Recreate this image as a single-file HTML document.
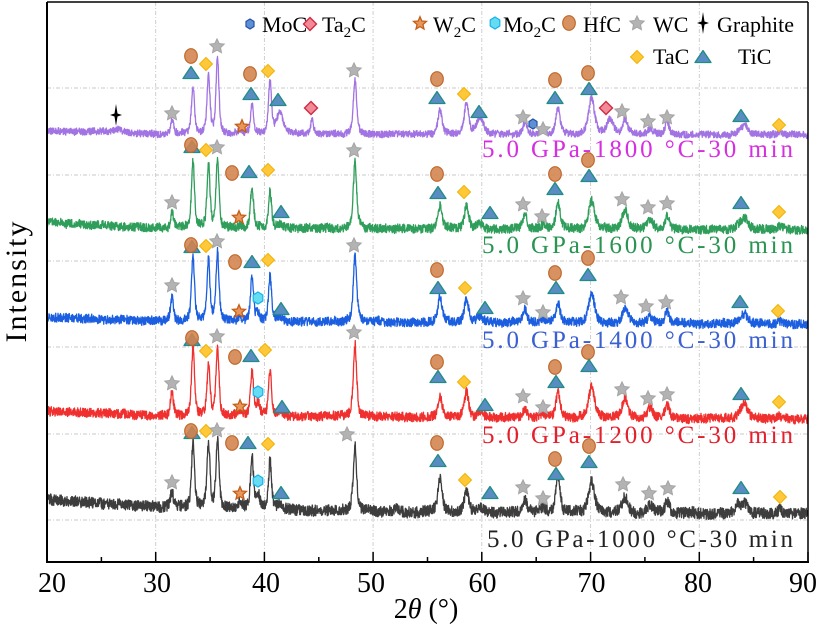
<!DOCTYPE html>
<html><head><meta charset="utf-8">
<style>
html,body{margin:0;padding:0;background:#fff;}
svg{display:block;}
text{font-family:"Liberation Serif","DejaVu Serif",serif;}
</style></head>
<body>
<svg id="s" width="821" height="632" viewBox="0 0 821 632" xmlns="http://www.w3.org/2000/svg">
<rect width="821" height="632" fill="#fff"/>
<defs><clipPath id="cp"><rect x="47" y="2" width="761" height="560"/></clipPath></defs>
<g stroke="#c9c9c9" stroke-width="0.9" stroke-dasharray="4 2 1 2" fill="none">
<line x1="155.7" y1="2" x2="155.7" y2="562"/>
<line x1="264.4" y1="2" x2="264.4" y2="562"/>
<line x1="373.1" y1="2" x2="373.1" y2="562"/>
<line x1="481.8" y1="2" x2="481.8" y2="562"/>
<line x1="590.6" y1="2" x2="590.6" y2="562"/>
<line x1="699.3" y1="2" x2="699.3" y2="562"/>
<line x1="47" y1="88" x2="808" y2="88"/>
<line x1="47" y1="175" x2="808" y2="175"/>
<line x1="47" y1="261" x2="808" y2="261"/>
<line x1="47" y1="347" x2="808" y2="347"/>
<line x1="47" y1="434" x2="808" y2="434"/>
<line x1="47" y1="520" x2="808" y2="520"/>
</g>
<g id="series" clip-path="url(#cp)"></g>
<g id="markers"></g>
<g font-size="25">
<text x="793" y="157" text-anchor="end" fill="#d62ee0" textLength="311" lengthAdjust="spacing">5.0 GPa-1800 °C-30 min</text>
<text x="793" y="253" text-anchor="end" fill="#2a9452" textLength="311" lengthAdjust="spacing">5.0 GPa-1600 °C-30 min</text>
<text x="793" y="348" text-anchor="end" fill="#3a60d2" textLength="311" lengthAdjust="spacing">5.0 GPa-1400 °C-30 min</text>
<text x="793" y="443" text-anchor="end" fill="#e3202c" textLength="311" lengthAdjust="spacing">5.0 GPa-1200 °C-30 min</text>
<text x="793" y="547" text-anchor="end" fill="#222" textLength="306" lengthAdjust="spacing">5.0 GPa-1000 °C-30 min</text>
</g>
<g fill="none" stroke="#000">
<line x1="47" y1="2" x2="47" y2="563" stroke-width="2"/>
<line x1="46" y1="562" x2="809" y2="562" stroke-width="2"/>
<line x1="47" y1="2" x2="808" y2="2" stroke-width="1.5"/>
<line x1="808" y1="2" x2="808" y2="562" stroke-width="1.5"/>
</g>
<g id="ticks" stroke="#000" stroke-width="1.5"></g>
<g font-size="28" text-anchor="middle" fill="#000">
<text x="52" y="592">20</text>
<text x="157" y="592">30</text>
<text x="266" y="592">40</text>
<text x="371" y="592">50</text>
<text x="482.5" y="592">60</text>
<text x="591.5" y="592">70</text>
<text x="698" y="592">80</text>
<text x="803" y="592">90</text>
</g>
<text x="426" y="618" font-size="28" text-anchor="middle">2<tspan font-style="italic">θ</tspan> (°)</text>
<text transform="translate(26,281) rotate(-90)" font-size="30" text-anchor="middle" letter-spacing="2">Intensity</text>
<g id="legend" font-size="22" fill="#000">
<text x="262" y="32">MoC</text>
<text x="322" y="32">Ta<tspan font-size="15" dy="5">2</tspan><tspan dy="-5">C</tspan></text>
<text x="433" y="32">W<tspan font-size="15" dy="5">2</tspan><tspan dy="-5">C</tspan></text>
<text x="503" y="32">Mo<tspan font-size="15" dy="5">2</tspan><tspan dy="-5">C</tspan></text>
<text x="583" y="32">HfC</text>
<text x="653" y="32">WC</text>
<text x="717" y="32">Graphite</text>
<text x="653" y="64">TaC</text>
<text x="738" y="64">TiC</text>
</g>
<g id="legm"></g>
</svg>
<script>
(function(){
var NS="http://www.w3.org/2000/svg";
function rng(seed){return function(){seed|=0;seed=seed+0x6D2B79F5|0;var t=Math.imul(seed^seed>>>15,1|seed);t=t+Math.imul(t^t>>>7,61|t)^t;return((t^t>>>14)>>>0)/4294967296;};}
function interp(p,x){for(var i=0;i<p.length-1;i++){if(x<=p[i+1][0]){var t=(x-p[i][0])/(p[i+1][0]-p[i][0]);return p[i][1]+t*(p[i+1][1]-p[i][1]);}}return p[p.length-1][1];}
function pv(x,c,w){var d=(x-c)/(w/2),d2=d*d;return 0.55/(1+d2)+0.45*Math.exp(-0.693*d2);}
var S=[
{c:"#a273e3",n:3.4,seed:11,base:[[47,131],[160,134],[808,135]],pk:[[118,3,8],[172,14,3.5],[193,48,3.5],[208.5,58,3.5],[217.5,76,3.5],[240,3,4],[252,29,3.5],[270,53,3.5],[280,22,8],[312,15,3.5],[355,54,4],[440,25,5],[466.5,31,5],[480,17,8],[525,13,5],[543,7,6],[558,25,5],[591.5,36,7],[610,15,8],[625,15,6],[650,6,7],[667,13,5],[740,4,8],[745,9,6],[780,4,6]]},
{c:"#2f9e5b",n:4.4,seed:22,base:[[47,223],[160,228],[808,230]],pk:[[172,15,3.5],[193,68,3.5],[208.5,63,3.5],[217.5,67,3.5],[240,3,4],[252,42,3.5],[270,38,3.5],[280,4,6],[355,66,4],[440,23,5],[466.5,23,5],[480,5,7],[525,15,5],[543,4,6],[558,26,5],[591.5,29,7],[625,19,7],[650,10,7],[667,14,5],[740,5,8],[745,10,7],[780,4,6]]},
{c:"#1b5fe0",n:4.4,seed:33,base:[[47,317],[160,321],[808,324]],pk:[[172,24,3.5],[193,65,3.5],[208.5,60,3.5],[217.5,68,3.5],[240,4,4],[252,45,3.5],[258,9,4],[270,45,3.5],[280,5,6],[355,67,4],[440,25,5],[466.5,23,5],[480,5,7],[525,13,5],[543,4,6],[558,20,5],[591.5,30,7],[625,15,7],[650,8,7],[667,12,5],[740,4,8],[745,8,7],[780,3,6]]},
{c:"#f0302e",n:4.6,seed:44,base:[[47,411],[160,416],[808,419]],pk:[[172,25,3.5],[193,69,3.5],[208.5,51,3.5],[217.5,69,3.5],[240,5,4],[252,47,3.5],[258,13,4],[270,46,3.5],[280,5,6],[355,73,4],[440,21,5],[466.5,26,5],[480,5,7],[525,10,5],[543,4,6],[558,25,5],[591.5,31,7],[625,20,7],[650,10,7],[667,13,5],[740,5,8],[745,13,7],[780,3,6]]},
{c:"#3d3d3d",n:5.6,seed:55,base:[[47,500],[160,507],[400,512],[808,514]],pk:[[172,17,3.5],[193,66,3.5],[208.5,65,3.5],[217.5,68,3.5],[240,7,4],[252,54,3.5],[258,15,4],[270,49,3.5],[280,5,6],[355,65,4],[397,4,4],[440,35,5],[466.5,22,5],[480,4,7],[525,14,5],[543,5,6],[558,35,5],[591.5,31,7],[625,16,7],[650,8,7],[667,12,5],[738,9,6],[745,10,6],[780,4,6]]}
];
var g=document.getElementById("series");
S.forEach(function(s){
 var r=rng(s.seed),d="",lf=0;
 for(var x=47;x<=808.01;x+=0.25){
  var y=interp(s.base,x);
  for(var i=0;i<s.pk.length;i++){var p=s.pk[i];y-=p[1]*pv(x,p[0],p[2]);}
  lf=lf*0.95+(r()-0.5)*0.5;
  y+=(r()-0.5)*2*s.n+lf;
  d+=(d?"L":"M")+x.toFixed(2)+","+y.toFixed(2);
 }
 var pa=document.createElementNS(NS,"path");
 pa.setAttribute("d",d);pa.setAttribute("fill","none");pa.setAttribute("stroke",s.c);
 pa.setAttribute("stroke-width","1.3");pa.setAttribute("stroke-linejoin","round");
 g.appendChild(pa);
});
function star(x,y,R,r){var p=[];for(var i=0;i<10;i++){var a=(-90+i*36)*Math.PI/180,rr=i%2?r:R;p.push((x+rr*Math.cos(a)).toFixed(2)+","+(y+rr*Math.sin(a)).toFixed(2));}return p.join(" ");}
function hex(x,y,w,h){return [[0,-h],[w,-h/2],[w,h/2],[0,h],[-w,h/2],[-w,-h/2]].map(function(q){return (x+q[0])+","+(y+q[1]);}).join(" ");}
var M={
 hfc:function(x,y){return '<ellipse cx="'+x+'" cy="'+y+'" rx="6.3" ry="7.3" fill="#d3834c" fill-opacity="0.88" stroke="#c0682c" stroke-width="1.2"/>';},
 tic:function(x,y){return '<polygon points="'+x+','+(y-6.5)+' '+(x+8)+','+(y+5.5)+' '+(x-8)+','+(y+5.5)+'" fill="#5a8cc4" stroke="#1f8c86" stroke-width="1.3" stroke-linejoin="round"/>';},
 tac:function(x,y){return '<polygon points="'+x+','+(y-6.5)+' '+(x+6.5)+','+y+' '+x+','+(y+6.5)+' '+(x-6.5)+','+y+'" fill="#ffc83a" stroke="#f3b200" stroke-width="1"/>';},
 wc:function(x,y){return '<polygon points="'+star(x,y+0.5,7.6,3.7)+'" fill="#b3b3b3" stroke="#a4a4a4" stroke-width="1"/>';},
 w2c:function(x,y){return '<polygon points="'+star(x,y+0.5,6.8,3.1)+'" fill="#e8975c" stroke="#c45d18" stroke-width="1.3"/>';},
 ta2c:function(x,y){return '<polygon points="'+x+','+(y-6.5)+' '+(x+6.5)+','+y+' '+x+','+(y+6.5)+' '+(x-6.5)+','+y+'" fill="#f08a96" stroke="#d22a44" stroke-width="1.4"/>';},
 moc:function(x,y){return '<polygon points="'+hex(x,y,4,5)+'" fill="#5d8fd4" stroke="#2352a8" stroke-width="1.2"/>';},
 mo2c:function(x,y){return '<polygon points="'+hex(x,y,4.8,6)+'" fill="#66dcf2" stroke="#18b2ea" stroke-width="1.2"/>';},
 gr:function(x,y){return '<polygon points="'+x+','+(y-11)+' '+(x+1.5)+','+(y-1.5)+' '+(x+6)+','+y+' '+(x+1.5)+','+(y+1.5)+' '+x+','+(y+11)+' '+(x-1.5)+','+(y+1.5)+' '+(x-6)+','+y+' '+(x-1.5)+','+(y-1.5)+'" fill="#000"/>';}
};
var L=[
["gr",116,115],["wc",172,113],["tic",191,73],["hfc",191,56],["tac",206,64],["wc",217,46],["w2c",242,126],["tic",251,94],["hfc",250,74],["tac",268,71],["tic",278,100],["ta2c",311,108],["wc",354,70],["hfc",437,79],["tic",437,98],["tac",464,94],["tic",479,112],["wc",523,117],["moc",533,124],["wc",543,129],["hfc",555,80],["tic",555,98],["hfc",588,73],["tic",589,89],["ta2c",606,108],["wc",622,111],["wc",648,121],["wc",667,117],["tic",741,116],["tac",779,125],
["tic",192,147],["hfc",191,145],["tac",206,150],["wc",217,147],["wc",172,202],["hfc",232,173],["tic",249,172],["tac",268,170],["w2c",239,217],["tic",281,212],["wc",354,150],["hfc",437,174],["tic",438,193],["tac",464,192],["tic",490,213],["wc",523,204],["wc",542,216],["hfc",555,174],["tic",555,189],["hfc",588,160],["tic",589,176],["wc",622,199],["wc",648,207],["wc",667,203],["tic",741,203],["tac",779,212],
["tic",192,247],["hfc",191,245],["tac",206,246],["wc",217,241],["wc",172,285],["hfc",235,262],["tic",252,262],["tac",268,260],["mo2c",258,298],["w2c",239,311],["tic",281,309],["wc",354,245],["hfc",437,270],["tic",438,288],["tac",465,288],["tic",485,308],["wc",523,298],["wc",543,312],["hfc",555,273],["tic",556,288],["hfc",588,258],["tic",588,275],["wc",621,297],["wc",646,306],["wc",666,302],["tic",740,302],["tac",778,311],
["tic",192,340],["hfc",192,338],["tac",206,351],["wc",217,336],["wc",172,383],["hfc",235,357],["tic",251,356],["tac",265,350],["mo2c",258,392],["w2c",240,406],["tic",282,407],["wc",354,332],["hfc",437,362],["tic",438,377],["tac",464,382],["tic",485,405],["wc",523,396],["wc",543,407],["hfc",555,367],["tic",556,382],["hfc",588,352],["tic",589,366],["wc",622,389],["wc",648,398],["wc",667,394],["tic",741,394],["tac",779,402],
["tic",192,433],["hfc",191,431],["tac",206,431],["wc",217,430],["wc",172,482],["hfc",232,443],["tic",248,443],["tac",268,444],["mo2c",258,481],["w2c",240,493],["tic",281,493],["wc",347,434],["hfc",437,443],["tic",438,461],["tac",465,480],["tic",490,493],["wc",523,487],["wc",543,498],["hfc",555,459],["tic",556,474],["hfc",589,446],["tic",589,462],["wc",623,484],["wc",649,493],["wc",668,488],["tic",741,488],["tac",780,497]
];
var h="";L.forEach(function(m){h+=M[m[0]](m[1],m[2]);});
document.getElementById("markers").innerHTML=h;
var lg=[["moc",250,24],["ta2c",310,24],["w2c",420,23],["mo2c",495,23],["hfc",569,23],["wc",637,23],["gr",703,23],["tac",637,57],["tic",703,57]];
var h2="";lg.forEach(function(m){h2+=M[m[0]](m[1],m[2]);});
document.getElementById("legm").innerHTML=h2;
var t="";
for(var k=0;k<=14;k++){var x=47+k*5*10.871;var major=(k%2===0);t+='<line x1="'+x.toFixed(1)+'" y1="'+(major?552:557)+'" x2="'+x.toFixed(1)+'" y2="562"/>';}
document.getElementById("ticks").innerHTML=t;
})();
</script>
</body></html>
